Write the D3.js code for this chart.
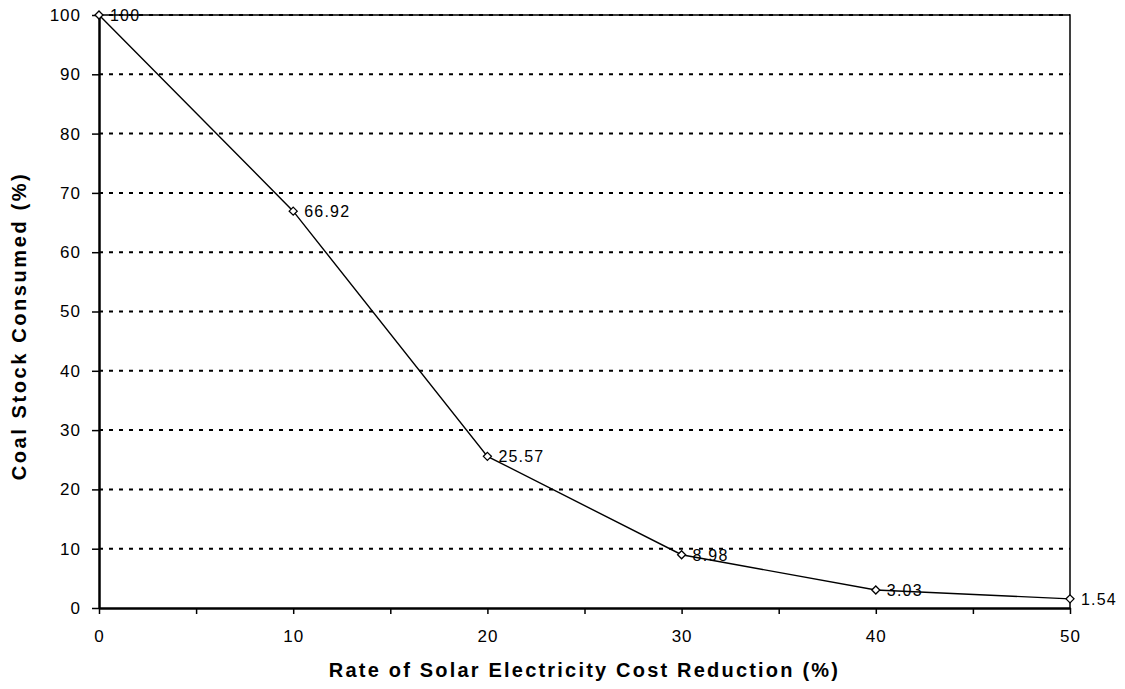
<!DOCTYPE html>
<html>
<head>
<meta charset="utf-8">
<script src="https://cdn.jsdelivr.net/npm/d3@7"></script>
<style>
  body { margin: 0; background: #fff; }
  text { font-family: "Liberation Sans", Arial, sans-serif; fill: #000; }
</style>
</head>
<body>
<script>
// data
var rates = [0, 10, 20, 30, 40, 50];
var consumed = [100, 66.92, 25.57, 8.98, 3.03, 1.54];
var xTickLabels = [0, 10, 20, 30, 40, 50];
var yTickLabels = [0, 10, 20, 30, 40, 50, 60, 70, 80, 90, 100];

var width = 1125, height = 689;
var margin = { left: 99, right: 55, top: 15, bottom: 81 };
var innerW = width - margin.left - margin.right,
  innerH = height - margin.top - margin.bottom;

var svg = d3.select("body").append("svg")
  .attr("width", width)
  .attr("height", height);

var x = d3.scaleLinear().domain([0, 50]).range([0, innerW]);
var y = d3.scaleLinear().domain([0, 100]).range([innerH, 0]);

var g = svg.append("g")
  .attr("transform", "translate(" + margin.left + "," + margin.top + ")");

// plot border (top + right), thin solid
g.append("path")
  .attr("d", "M0,0H" + innerW + "V" + innerH)
  .attr("fill", "none")
  .attr("stroke", "#000").attr("stroke-width", 1.5);

// dotted gridlines
g.append("g").selectAll("line")
  .data(yTickLabels.filter(function (d) { return d > 0; }))
  .enter().append("line")
  .attr("x1", 0).attr("x2", innerW)
  .attr("y1", function (d) { return y(d); })
  .attr("y2", function (d) { return y(d); })
  .attr("stroke", "#000")
  .attr("stroke-width", 2)
  .attr("stroke-dasharray", "4,6");

// y axis
var yAxis = g.append("g")
  .call(d3.axisLeft(y).tickValues(yTickLabels).tickSize(7).tickPadding(11).tickSizeOuter(0));
yAxis.select(".domain").attr("stroke-width", 2.5);
yAxis.selectAll(".tick line").attr("stroke-width", 1.5);
yAxis.selectAll("text")
  .attr("font-family", null)
  .style("font-size", "17px")
  .style("letter-spacing", "1px");

// x axis: ticks every 5, labels every 10
var xAxis = g.append("g")
  .attr("transform", "translate(0," + innerH + ")")
  .call(d3.axisBottom(x).tickValues(d3.range(0, 51, 5)).tickSize(6).tickPadding(16).tickSizeOuter(0)
    .tickFormat(function (d) { return xTickLabels.indexOf(d) >= 0 ? d : ""; }));
xAxis.select(".domain").attr("stroke-width", 2.5);
xAxis.selectAll(".tick line").attr("stroke-width", 1.5);
xAxis.selectAll("text")
  .attr("font-family", null)
  .style("font-size", "17px")
  .style("letter-spacing", "1px");

// line
var pts = rates.map(function (r, i) { return { x: r, y: consumed[i] }; });
g.append("path")
  .datum(pts)
  .attr("fill", "none")
  .attr("stroke", "#000")
  .attr("stroke-width", 1.4)
  .attr("d", d3.line().x(function (d) { return x(d.x); }).y(function (d) { return y(d.y); }));

// diamond markers
g.selectAll(".marker")
  .data(pts)
  .enter().append("path")
  .attr("class", "marker")
  .attr("transform", function (d) { return "translate(" + x(d.x) + "," + y(d.y) + ")"; })
  .attr("d", "M0,-4L4,0L0,4L-4,0Z")
  .attr("fill", "#fff")
  .attr("stroke", "#000")
  .attr("stroke-width", 1.3);

// data labels
g.selectAll(".lbl")
  .data(pts)
  .enter().append("text")
  .attr("class", "lbl")
  .attr("x", function (d) { return x(d.x) + 11; })
  .attr("y", function (d) { return y(d.y); })
  .attr("dy", "0.36em")
  .style("font-size", "16px")
  .style("letter-spacing", "1.2px")
  .text(function (d) { return d.y; });

// axis titles
svg.append("text")
  .attr("x", margin.left + innerW / 2)
  .attr("y", 677)
  .attr("text-anchor", "middle")
  .style("font-size", "20px")
  .style("font-weight", "bold")
  .style("letter-spacing", "2.2px")
  .text("Rate of Solar Electricity Cost Reduction (%)");

svg.append("text")
  .attr("transform", "translate(19," + (margin.top + 311) + ") rotate(-90)")
  .attr("text-anchor", "middle")
  .attr("dy", "0.36em")
  .style("font-size", "20px")
  .style("font-weight", "bold")
  .style("letter-spacing", "2.6px")
  .text("Coal Stock Consumed (%)");
</script>
</body>
</html>
